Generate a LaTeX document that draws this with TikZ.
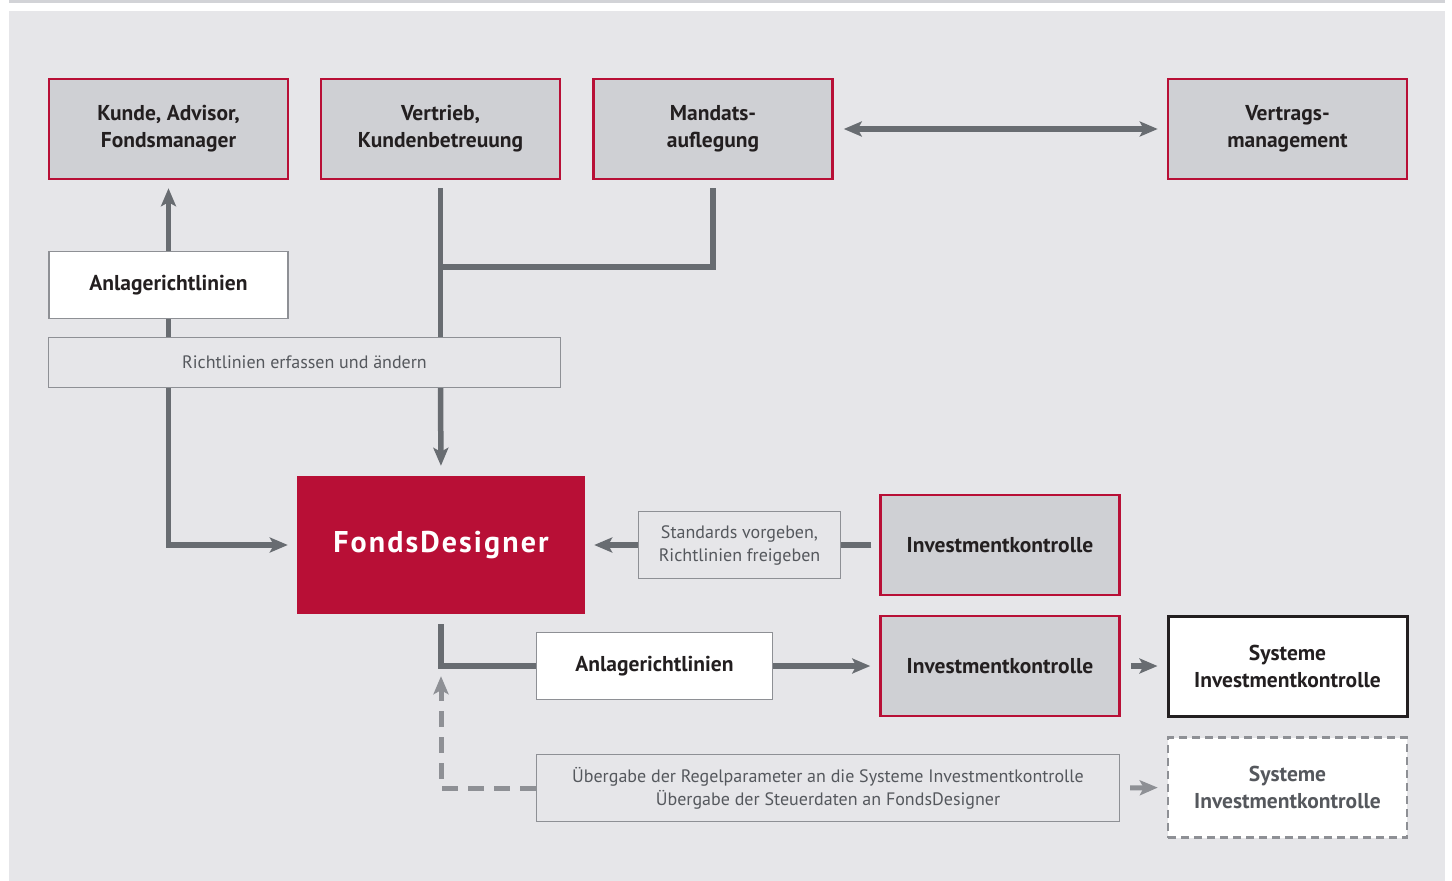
\documentclass[tikz,border=0pt]{standalone}
\usepackage{fontspec}
\setmainfont{PT Sans}
\usepackage{tikz}
\usetikzlibrary{arrows.meta}
\usetikzlibrary{positioning}
\definecolor{bgGray}{HTML}{E6E6E9}
\definecolor{stripGray}{HTML}{D2D3D7}
\definecolor{boxGray}{HTML}{CFD0D4}
\definecolor{fdRed}{HTML}{B80F36}
\definecolor{linkGray}{HTML}{686C71}
\definecolor{paleGray}{HTML}{8E9095}
\definecolor{darkText}{HTML}{231F20}
\definecolor{noteText}{HTML}{55585D}
\newcommand{\titleFont}{\bfseries\fontsize{21.5}{27}\selectfont}
\newcommand{\noteFont}{\fontsize{18}{23}\selectfont}
\newcommand{\brandFont}{\bfseries\fontsize{30}{34}\selectfont\addfontfeatures{LetterSpace=7}}
\tikzset{
  >={Stealth[length=18pt,width=15pt,inset=4pt]},
  role/.style={draw=fdRed, line width=2.5pt, fill=boxGray, minimum width=239pt,
    minimum height=100pt, align=center, font=\titleFont, text=darkText},
  paper/.style={draw=paleGray, line width=1.5pt, fill=white, minimum width=239pt,
    minimum height=67pt, align=center, font=\titleFont, text=darkText},
  note/.style={draw=paleGray, line width=1.3pt, fill=bgGray, minimum height=67pt,
    align=center, font=\noteFont, text=noteText},
  link/.style={draw=linkGray, line width=5.5pt},
  pale link/.style={draw=paleGray, line width=5pt},
}

\begin{document}
\begin{tikzpicture}[x=1pt, y=-1pt]
    \useasboundingbox (0,0) rectangle (1452,881);
    \fill[bgGray] (9,11) rectangle (1445,881);
    \fill[stripGray] (9,0) rectangle (1445,3);
    % top row
    \node[role] (kunde) at (168.5,129) {Kunde, Advisor,\\Fondsmanager};
    \node[role] (vertrieb) at (440.5,129) {Vertrieb,\\Kundenbetreuung};
    \node[role] (mandat) at (713,129) {Mandats-\\auflegung};
    \node[role] (vertrag) at (1287.5,129) {Vertrags-\\management};
    % guidelines
    \node[paper] (anlage) at (168.5,285) {Anlagerichtlinien};
    \node[note, minimum width=512pt, minimum height=50pt] (erfassen) at (304.5,362.5) {Richtlinien erfassen und ändern};
    % centre
    \node[fill=fdRed, minimum width=288pt, minimum height=138pt, text=white,
      font=\brandFont] (fonds) at (441,545) {FondsDesigner};
    \node[note, minimum width=202pt] (standards) at (739.5,545) {Standards vorgeben,\\Richtlinien freigeben};
    \node[role] (kontrolle) at (1000,545) {Investmentkontrolle};
    \node[role] (pruefung) at (1000,666) {Investmentkontrolle};
    \node[paper, minimum width=236pt] (regeln) at (654.5,666) {Anlagerichtlinien};
    \node[role, draw=darkText, line width=3pt, fill=white] (systeme) at (1287.5,666) {Systeme\\Investmentkontrolle};
    \node[note, minimum width=583pt] (uebergabe) at (828,788) {Übergabe der Regelparameter an die Systeme Investmentkontrolle\\Übergabe der Steuerdaten an FondsDesigner};
    \node[role, draw=paleGray, dash pattern=on 8pt off 5pt, fill=white, text=noteText] (plan) at (1287.5,787.5) {Systeme\\Investmentkontrolle};
    \coordinate (merge) at (440.5,267);
    % connectors
    \draw[link,<->,shorten <=10pt,shorten >=9pt] (mandat.east) -- (vertrag.west);
    \draw[link,->,shorten >=8pt] (anlage.north) -- (kunde.south);
    \draw[link] (anlage.south) -- (anlage.south |- erfassen.north);
    \draw[link,->,shorten >=9pt] (anlage.south |- erfassen.south) |- (fonds.west);
    \draw[link,shorten <=8pt] (vertrieb.south) -- (vertrieb.south |- erfassen.north);
    \draw[link,shorten <=8pt] (mandat.south) |- (merge);
    \draw[link,->,shorten >=10pt] (vertrieb.south |- erfassen.south) -- (fonds.north);
    \draw[link,shorten <=8pt] (kontrolle.west) -- (standards.east);
    \draw[link,->,shorten >=9pt] (standards.west) -- (fonds.east);
    \draw[link,shorten <=10pt] (fonds.south) |- (regeln.west);
    \draw[link,->,shorten >=9pt] (regeln.east) -- (pruefung.west);
    \draw[link,->,shorten <=10pt,shorten >=9pt] (pruefung.east) -- (systeme.west);
    \draw[pale link,->,dash pattern=on 16pt off 10pt,shorten >=62pt] (uebergabe.west) -| (fonds.south);
    \draw[pale link,->,shorten <=10pt,shorten >=9pt] (uebergabe.east) -- (plan.west);
\end{tikzpicture}
\end{document}
